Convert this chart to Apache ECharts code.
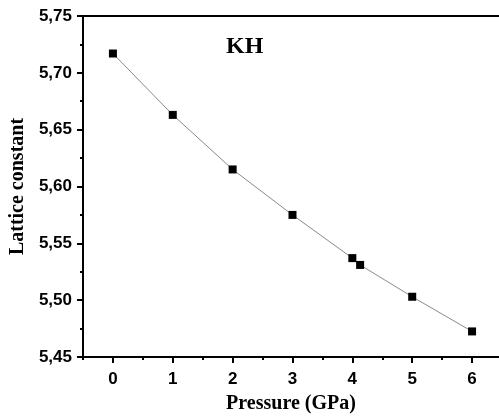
<!DOCTYPE html>
<html><head><meta charset="utf-8">
<script src="https://cdn.jsdelivr.net/npm/echarts@6/dist/echarts.min.js"></script>
<style>html,body{margin:0;padding:0;background:#fff}#c{width:499px;height:419px}</style>
</head><body><div id="c"></div>
<script>
var pressure = [0, 1, 2, 3, 4, 4.13, 5, 6];
var latticeConst = [5.717, 5.663, 5.615, 5.575, 5.537, 5.531, 5.503, 5.4725];
var xMajorTicks = [0, 1, 2, 3, 4, 5, 6];
var xMinorTicks = [-0.5, 0.5, 1.5, 2.5, 3.5, 4.5, 5.5];
var chartTitle = 'KH';
var xName = 'Pressure (GPa)';
var yName = 'Lattice constant';

var pts = pressure.map(function (p, i) { return [p, latticeConst[i]]; });
var tickFont = { color: '#000', fontFamily: 'Liberation Sans', fontWeight: 'bold', fontSize: 17 };
var chart = echarts.init(document.getElementById('c'), null, { renderer: 'canvas' });
chart.setOption({
  animation: false,
  backgroundColor: '#fff',
  title: { text: chartTitle, left: 221, top: 30,
    textStyle: { fontFamily: 'Liberation Serif', fontWeight: 'bold', fontSize: 24, color: '#000' } },
  grid: { left: 81, top: 16, right: 0, bottom: 61, containLabel: false },
  xAxis: [
    { type: 'value', min: -0.5, max: 6.45, position: 'bottom',
      name: xName, nameLocation: 'middle', nameGap: 37,
      nameTextStyle: { fontFamily: 'Liberation Serif', fontWeight: 'bold', fontSize: 20, color: '#000' },
      axisLine: { show: true, onZero: false, lineStyle: { color: '#000', width: 2 } },
      axisTick: { show: true, customValues: xMajorTicks, length: 6, inside: false, lineStyle: { color: '#000', width: 2 } },
      axisLabel: { customValues: xMajorTicks, margin: 14, formatter: function (v) { return String(v); },
        color: tickFont.color, fontFamily: tickFont.fontFamily, fontWeight: tickFont.fontWeight, fontSize: tickFont.fontSize },
      splitLine: { show: false } },
    { type: 'value', min: -0.5, max: 6.45, position: 'bottom', gridIndex: 0,
      axisLine: { show: false, onZero: false },
      axisTick: { show: true, customValues: xMinorTicks, length: 3, lineStyle: { color: '#000', width: 2 } },
      axisLabel: { show: false }, splitLine: { show: false } },
    { type: 'value', min: -0.5, max: 6.45, position: 'top', gridIndex: 0,
      axisLine: { show: true, onZero: false, lineStyle: { color: '#000', width: 2 } },
      axisTick: { show: false }, axisLabel: { show: false }, splitLine: { show: false } }
  ],
  yAxis: {
    type: 'value', min: 5.45, max: 5.75, interval: 0.05,
    name: yName, nameLocation: 'middle', nameGap: 53, nameRotate: 90,
    nameTextStyle: { fontFamily: 'Liberation Serif', fontWeight: 'bold', fontSize: 20, color: '#000' },
    axisLine: { show: true, onZero: false, lineStyle: { color: '#000', width: 2 } },
    axisTick: { show: true, length: 6, lineStyle: { color: '#000', width: 2 } },
    minorTick: { show: true, splitNumber: 2, length: 3, lineStyle: { color: '#000', width: 2 } },
    axisLabel: { margin: 11, formatter: function (v) { return v.toFixed(2).replace('.', ','); },
      color: tickFont.color, fontFamily: tickFont.fontFamily, fontWeight: tickFont.fontWeight, fontSize: tickFont.fontSize },
    splitLine: { show: false }
  },
  series: [{
    type: 'line', xAxisIndex: 0, data: pts, smooth: false,
    symbol: 'rect', symbolSize: 8,
    itemStyle: { color: '#000' },
    lineStyle: { color: '#8a8a8a', width: 1 }
  }]
});
</script></body></html>
